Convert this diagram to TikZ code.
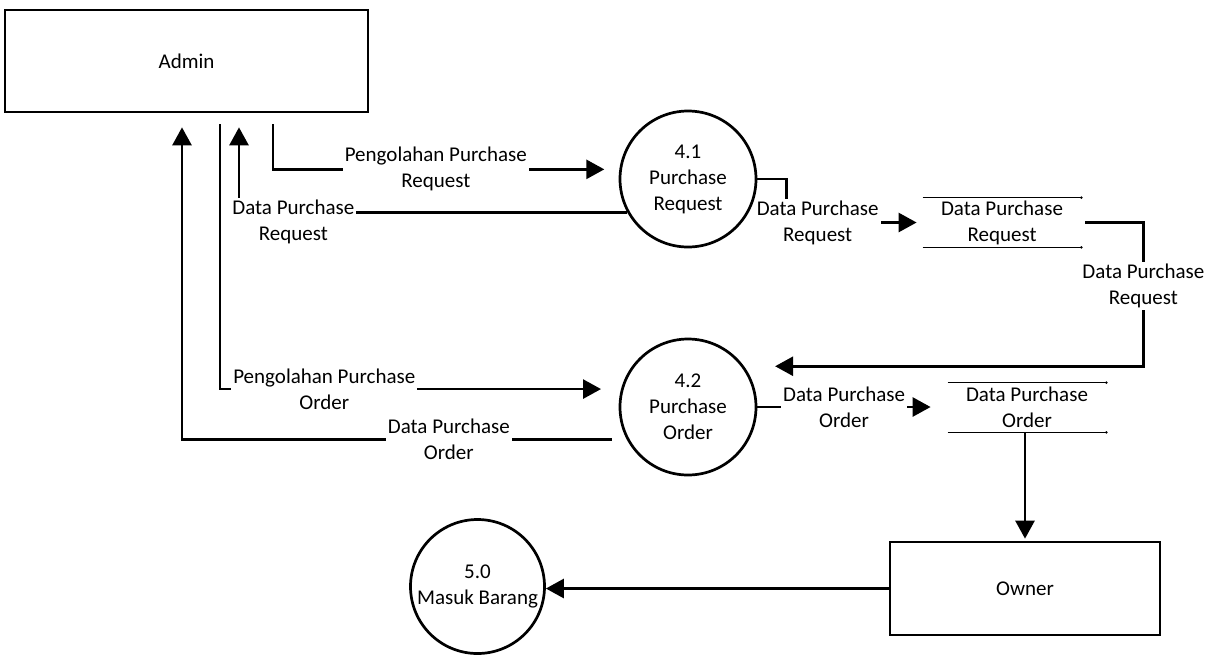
\documentclass[tikz,border=0pt]{standalone}
\usepackage{fontspec}
\setmainfont{Carlito}
\usepackage{tikz}
\usetikzlibrary{arrows.meta}

\begin{document}
\begin{tikzpicture}[x=0.5pt, y=-0.5pt,
  every node/.style={font=\fontsize{10.5}{13}\selectfont},
  entity/.style={draw, line width=1.35pt, minimum width=181.5pt, minimum height=51pt},
  proc/.style={draw, circle, line width=1.35pt, minimum size=68pt, inner sep=0pt, align=center},
  store/.style={minimum width=79pt, minimum height=24.5pt, inner sep=0pt, align=center},
  flow/.style={line width=1.35pt, -{Triangle[length=9pt, width=9.5pt]}},
  lbl/.style={fill=white, inner sep=1pt, align=center}]
  \useasboundingbox (0,0) rectangle (1214,655);
  % Nodes
  \node[entity] (admin) at (186.5,61) {Admin};
  \node[entity, minimum width=135pt, minimum height=46.5pt] (owner) at (1025,588.5) {Owner};
  \node[proc] (p41) at (688,179) {4.1\\Purchase\\Request};
  \node[proc] (p42) at (688,407) {4.2\\Purchase\\Order};
  \node[proc, minimum size=67pt] (p50) at (477.5,586.5) {5.0\\Masuk Barang};
  \node[store] (ds1) at (1002,222.5) {Data Purchase\\Request};
  \node[store] (ds2) at (1027,407.5) {Data Purchase\\Order};
  % Data stores
  \foreach \s in {ds1,ds2} {
    \draw[line width=0.85pt] (\s.north west) -- (\s.north east);
    \draw[line width=0.55pt] (\s.south west) -- (\s.south east);
    \fill (\s.north east) circle (0.7pt) (\s.south east) circle (0.7pt);
  }
  % Flows with Admin
  \draw[flow, shorten <=7.5pt, shorten >=7pt] (p42.208) -| (admin.south -| 182,0)
    node[lbl, pos=0.2] {Data Purchase\\Order};
  \draw[flow, shorten <=5.5pt, shorten >=10pt] (admin.south -| 220,0) |- (p42.165)
    node[lbl, pos=0.63] {Pengolahan Purchase\\Order};
  \draw[flow, shorten >=7pt] (p41.209) -| (admin.south -| 239,0)
    node[lbl, pos=0.43, yshift=-4.5pt] {Data Purchase\\Request};
  \draw[flow, shorten <=5.5pt, shorten >=7.5pt] (admin.south -| 273,0) |- (p41.172)
    node[lbl, pos=0.735] {Pengolahan Purchase\\Request};
  % Flows with stores
  \draw[flow, shorten >=3pt] (p41.east) -- ++(29,0) |- (ds1.west)
    node[lbl, pos=0.615] {Data Purchase\\Request};
  \draw[flow, shorten <=2pt, shorten >=15.5pt] (ds1.east) -- ++(62,0) |- (p42.36)
    node[lbl, pos=0.22] {Data Purchase\\Request};
  \draw[flow, shorten >=8.5pt] (p42.east) -- (p42.east -| ds2.west)
    node[lbl, pos=0.456] {Data Purchase\\Order};
  % Owner
  \draw[flow, shorten >=1pt] (ds2.south -| owner.north) -- (owner.north);
  \draw[flow] (owner.west) -- (owner.west -| p50.east);
\end{tikzpicture}
\end{document}
